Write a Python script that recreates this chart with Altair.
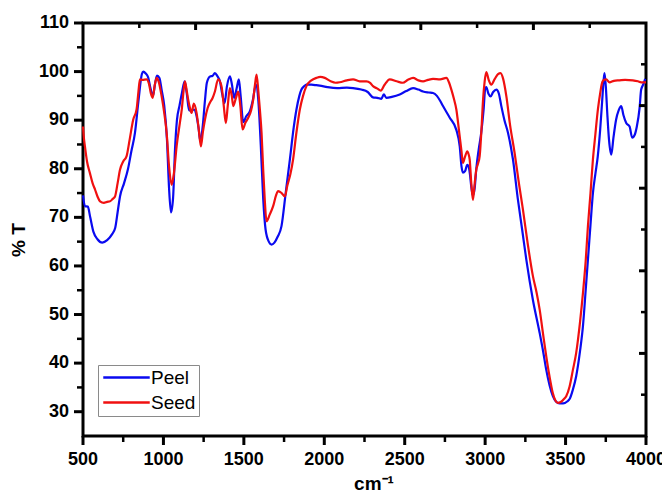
import altair as alt
import pandas as pd

# ---- data (wavenumber cm-1, %T) ----
peel_wn = [500, 512, 530, 545, 565, 590, 620, 650, 680, 700, 715, 730, 755, 780, 800, 823, 845, 866, 875, 890,
           905, 920, 935, 948, 960, 975, 990, 1005, 1022, 1035, 1047, 1060, 1072, 1084, 1100, 1115, 1132, 1145, 1160, 1175,
           1190, 1205, 1218, 1230, 1245, 1258, 1270, 1290, 1305, 1320, 1335, 1351, 1365, 1380, 1395, 1413, 1425, 1440, 1455, 1469,
           1480, 1496, 1515, 1537, 1555, 1575, 1590, 1605, 1620, 1635, 1655, 1672, 1690, 1710, 1734, 1760, 1786, 1810, 1827, 1845,
           1858, 1875, 1889, 1920, 1950, 1972, 2020, 2080, 2140, 2179, 2230, 2270, 2303, 2330, 2355, 2370, 2386, 2420, 2469, 2510,
           2552, 2585, 2614, 2650, 2676, 2700, 2720, 2738, 2780, 2821, 2842, 2853, 2862, 2875, 2889, 2897, 2905, 2915, 2924, 2935,
           2945, 2960, 2976, 2990, 3001, 3007, 3020, 3034, 3050, 3070, 3085, 3100, 3120, 3142, 3173, 3204, 3230, 3256, 3297, 3339,
           3360, 3380, 3400, 3421, 3440, 3463, 3485, 3510, 3525, 3545, 3566, 3590, 3608, 3625, 3639, 3655, 3670, 3686, 3700, 3715,
           3728, 3736, 3742, 3750, 3760, 3770, 3784, 3798, 3814, 3830, 3846, 3860, 3877, 3898, 3914, 3930, 3943, 3960, 3970, 3985,
           3995]
peel_t = [74.5, 72.3, 72.2, 70.0, 67.0, 65.5, 64.8, 65.3, 66.5, 67.8, 71.0, 74.3, 77.0, 80.0, 83.5, 87.4, 94.0, 99.5, 100.0, 99.6,
          98.8, 96.5, 95.0, 97.5, 99.2, 98.7, 96.0, 93.0, 86.0, 76.0, 71.0, 74.0, 84.0, 90.0, 93.0, 95.6, 98.0, 95.5, 92.0, 92.0,
          92.2, 91.0, 88.5, 85.6, 89.0, 94.0, 97.7, 99.0, 99.1, 99.7, 99.1, 98.0, 95.5, 93.5, 97.0, 99.0, 97.5, 94.6, 96.5, 98.4,
          95.0, 89.6, 90.8, 91.8, 94.0, 97.3, 94.0, 85.0, 74.0, 67.5, 65.0, 64.4, 64.8, 66.0, 68.2, 75.0, 81.9, 88.5, 92.2, 95.0,
          96.3, 97.0, 97.3, 97.3, 97.2, 97.1, 96.8, 96.6, 96.7, 96.6, 96.3, 95.8, 94.7, 94.6, 94.4, 95.3, 94.6, 94.8, 95.3, 96.0,
          96.6, 96.3, 95.9, 95.7, 95.6, 95.0, 94.0, 92.9, 90.5, 88.0, 84.6, 80.5, 79.2, 79.5, 80.8, 80.5, 79.0, 76.0, 74.5, 76.0,
          80.0, 84.0, 87.5, 92.0, 96.6, 96.8, 95.5, 94.9, 95.8, 96.3, 95.5, 93.0, 90.0, 87.4, 81.9, 73.6, 67.5, 61.3, 53.0, 46.2,
          42.5, 38.6, 35.5, 33.2, 32.1, 31.7, 31.7, 32.1, 32.6, 34.5, 37.3, 42.5, 47.6, 55.0, 61.3, 68.5, 75.0, 79.1, 82.5, 88.0,
          94.2, 98.0, 99.7, 97.0, 91.0, 86.0, 82.9, 86.5, 90.1, 92.0, 92.9, 91.0, 89.4, 88.7, 86.4, 87.0, 88.7, 92.5, 96.3, 97.5,
          98.5]

seed_wn = [500, 505, 512, 525, 543, 560, 575, 590, 606, 630, 650, 668, 685, 699, 715, 730, 750, 771, 790, 812,
           833, 845, 854, 870, 895, 910, 922, 933, 945, 958, 970, 989, 1005, 1020, 1035, 1051, 1065, 1082, 1102, 1115,
           1125, 1134, 1145, 1154, 1165, 1175, 1189, 1206, 1220, 1233, 1245, 1258, 1275, 1289, 1305, 1320, 1340, 1361, 1375, 1388,
           1400, 1413, 1425, 1434, 1450, 1465, 1478, 1492, 1510, 1527, 1545, 1558, 1570, 1579, 1590, 1600, 1610, 1620, 1630, 1641,
           1660, 1682, 1700, 1713, 1735, 1755, 1770, 1790, 1806, 1825, 1848, 1868, 1889, 1920, 1951, 1975, 2003, 2040, 2070, 2096,
           2140, 2179, 2220, 2262, 2285, 2303, 2330, 2351, 2375, 2407, 2450, 2489, 2520, 2552, 2585, 2614, 2645, 2676, 2720, 2759,
           2775, 2790, 2805, 2821, 2837, 2852, 2862, 2875, 2889, 2897, 2904, 2914, 2924, 2935, 2945, 2955, 2966, 2977, 2987, 2997,
           3007, 3022, 3038, 3060, 3080, 3096, 3112, 3132, 3155, 3183, 3210, 3235, 3265, 3297, 3320, 3339, 3360, 3380, 3400, 3421,
           3437, 3452, 3470, 3490, 3504, 3525, 3545, 3566, 3590, 3608, 3625, 3639, 3655, 3670, 3685, 3701, 3715, 3728, 3740, 3753,
           3773, 3800, 3835, 3870, 3918, 3950, 3970, 4000]
seed_t = [88.7, 86.5, 84.6, 81.5, 79.1, 77.0, 75.7, 74.3, 73.3, 73.0, 73.2, 73.3, 73.8, 74.3, 77.0, 79.8, 81.5, 82.6, 86.0, 90.1,
          92.2, 96.0, 98.4, 98.3, 98.4, 97.5, 95.5, 94.6, 97.0, 98.7, 98.0, 94.9, 91.5, 87.4, 80.5, 76.7, 79.0, 84.6, 89.4, 92.5,
          96.0, 98.0, 96.0, 94.2, 92.5, 91.5, 93.4, 91.5, 88.0, 84.6, 87.5, 90.1, 92.5, 93.6, 94.5, 95.9, 98.4, 97.0, 93.0, 89.4,
          93.0, 96.6, 95.0, 92.9, 94.5, 95.9, 93.0, 88.1, 89.5, 90.5, 92.0, 94.2, 97.5, 99.4, 96.0, 92.0, 87.4, 80.0, 73.6, 69.2,
          70.5, 72.3, 74.5, 75.4, 75.0, 74.3, 76.5, 79.0, 81.9, 87.0, 92.2, 95.0, 97.0, 98.2, 98.7, 98.9, 98.7, 98.0, 97.7, 97.8,
          98.2, 98.4, 98.0, 98.0, 97.7, 97.0, 96.5, 96.1, 97.3, 98.4, 98.0, 97.7, 98.3, 98.7, 98.2, 98.0, 98.3, 98.5, 98.4, 98.7,
          97.8, 96.3, 94.5, 92.2, 88.0, 83.9, 81.2, 82.5, 83.6, 83.0, 81.9, 77.0, 73.6, 77.0, 79.8, 81.0, 82.6, 88.0, 94.2, 98.0,
          99.9, 98.3, 97.3, 98.5, 99.5, 99.7, 98.5, 94.9, 89.0, 83.3, 77.0, 71.6, 64.5, 57.9, 54.5, 51.0, 46.0, 41.4, 37.3, 33.8,
          32.3, 31.8, 32.0, 32.6, 33.2, 35.2, 38.5, 42.1, 48.5, 54.4, 61.0, 68.2, 75.0, 81.9, 87.0, 92.2, 95.5, 97.8, 98.3, 98.4,
          97.8, 98.1, 98.2, 98.3, 98.2, 98.0, 97.8, 97.8]

series_names = ["Peel", "Seed"]
series_colors = ["#0a0af0", "#f01010"]

x_major = [500, 1000, 1500, 2000, 2500, 3000, 3500, 4000]
x_minor = [750, 1250, 1750, 2250, 2750, 3250, 3750]
y_major = [30, 40, 50, 60, 70, 80, 90, 100, 110]
y_minor = [35, 45, 55, 65, 75, 85, 95, 105]
top_major = [1200, 1900, 2600, 3300]
top_minor = [850, 1550, 2250, 2950, 3650]
right_major = [42, 59, 76, 93]
right_minor = [33.5, 50.5, 67.5, 84.5, 101.5]
x_title = "cm⁻¹"
y_title = "% T"

W, H = 563, 413
X0, X1 = 500, 4000
Y0, Y1 = 25, 110
PX_X = (X1 - X0) / W   # data units per pixel along x
PX_Y = (Y1 - Y0) / H   # data units per pixel along y

df = pd.concat([
    pd.DataFrame({"wn": peel_wn, "T": peel_t, "Sample": "Peel", "o": range(len(peel_wn))}),
    pd.DataFrame({"wn": seed_wn, "T": seed_t, "Sample": "Seed", "o": range(len(seed_wn))}),
], ignore_index=True)

FONT = "Liberation Sans"
xs = alt.Scale(domain=[X0, X1], nice=False, zero=False)
ys = alt.Scale(domain=[Y0, Y1], nice=False, zero=False)

main = alt.Chart(df).mark_line(strokeWidth=2.2, interpolate="monotone").encode(
    x=alt.X("wn:Q", scale=xs, axis=None),
    y=alt.Y("T:Q", scale=ys, axis=None),
    color=alt.Color("Sample:N", scale=alt.Scale(domain=series_names, range=series_colors), legend=alt.Legend(
        title=None, orient="none", legendX=15, legendY=342, direction="vertical",
        symbolType="M-3,0H3", symbolSize=240, symbolStrokeWidth=2.5, symbolOffset=16,
        labelFont=FONT, labelFontSize=19, labelColor="black", labelOffset=15,
        strokeColor="#8a8a8a", fillColor="white", padding=3, rowPadding=5)),
    order="o:Q",
)

# tick segments built from the tick value arrays (each tick = 2 points)
rows = []
tid = 0


def add_x(values, y_edge, length_px, sign, width):
    global tid
    for v in values:
        rows.append({"x": v, "y": y_edge, "id": tid, "k": 0, "w": width})
        rows.append({"x": v, "y": y_edge + sign * length_px * PX_Y, "id": tid, "k": 1, "w": width})
        tid += 1


def add_y(values, x_edge, length_px, sign, width):
    global tid
    for v in values:
        rows.append({"x": x_edge, "y": v, "id": tid, "k": 0, "w": width})
        rows.append({"x": x_edge + sign * length_px * PX_X, "y": v, "id": tid, "k": 1, "w": width})
        tid += 1


add_x(x_major, Y0, 9, -1, "major")
add_x(x_minor, Y0, 6, -1, "minor")
add_x(top_major, Y1, 7, -1, "major")
add_x(top_minor, Y1, 5, -1, "minor")
add_y(y_major, X0, 9, -1, "major")
add_y(y_minor, X0, 6, -1, "minor")
add_y(right_major, X1, 7, -1, "major")
add_y(right_minor, X1, 5, -1, "minor")
tick_df = pd.DataFrame(rows)

tick_layer = alt.Chart(tick_df).mark_line(color="black", strokeCap="butt", clip=False).encode(
    x=alt.X("x:Q", scale=xs, axis=None),
    y=alt.Y("y:Q", scale=ys, axis=None),
    detail="id:N",
    order="k:Q",
    strokeWidth=alt.StrokeWidth("w:N", scale=alt.Scale(domain=["major", "minor"], range=[3, 2.5]), legend=None),
)

xlabels = alt.Chart(pd.DataFrame({"v": x_major})).mark_text(
    font=FONT, fontSize=18, fontWeight="bold", color="black", align="center", baseline="top"
).encode(x=alt.X("v:Q", scale=xs, axis=None), y=alt.value(H + 15), text=alt.Text("v:Q", format="d"))

ylabels = alt.Chart(pd.DataFrame({"v": y_major})).mark_text(
    font=FONT, fontSize=18, fontWeight="bold", color="black", align="right", baseline="middle"
).encode(y=alt.Y("v:Q", scale=ys, axis=None), x=alt.value(-14), text=alt.Text("v:Q", format="d"))

xtitle = alt.Chart(pd.DataFrame({"t": [x_title]})).mark_text(
    font=FONT, fontSize=19, fontWeight="bold", color="black", align="center", baseline="alphabetic"
).encode(x=alt.value(291), y=alt.value(H + 54), text="t:N")

ytitle = alt.Chart(pd.DataFrame({"t": [y_title]})).mark_text(
    font=FONT, fontSize=19, fontWeight="bold", color="black", align="center", baseline="middle", angle=270
).encode(x=alt.value(-64), y=alt.value(217), text="t:N")

chart = alt.layer(main, tick_layer, xlabels, ylabels, xtitle, ytitle).resolve_scale(
    x="shared", y="shared"
).properties(
    width=W, height=H,
    autosize=alt.AutoSizeParams(type="none"),
    padding={"left": 75, "top": 15, "right": 16, "bottom": 62},
    background="white",
).configure_view(stroke="black", strokeWidth=3)

chart.save("out.html", embed_options={"renderer": "svg", "actions": False})
